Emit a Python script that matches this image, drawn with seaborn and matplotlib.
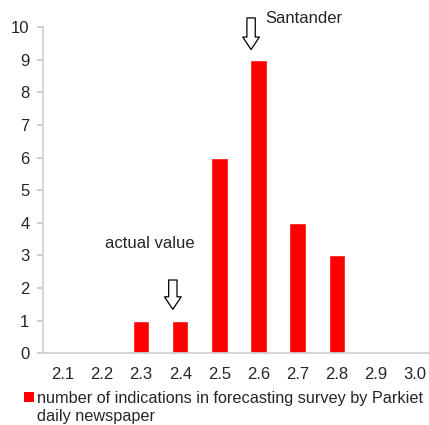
import pandas as pd
import numpy as np
import matplotlib.pyplot as plt
import seaborn as sns
from matplotlib.patches import Patch

# forecast values and number of indications
rates = ["2.1", "2.2", "2.3", "2.4", "2.5", "2.6", "2.7", "2.8", "2.9", "3.0"]
counts = [0, 0, 1, 1, 6, 9, 4, 3, 0, 0]
legend_line1 = "number of indications in forecasting survey by Parkiet"
legend_line2 = "daily newspaper"

df = pd.DataFrame({"rate": rates, "count": counts})

sns.set_theme(style="white")
plt.rcParams["font.family"] = ["Liberation Sans", "DejaVu Sans"]

fig = plt.figure(figsize=(4.29, 4.25), dpi=100)
ax = fig.add_axes([0.101, 0.169, 0.912, 0.767])

sns.barplot(data=df, x="rate", y="count", color="#ff0000", width=0.42,
            saturation=1, ax=ax)

ax.set_ylim(0, 10)
ax.set_xlim(-0.5, 9.5)
ax.set_yticks(range(0, 11))
ax.set_xlabel("")
ax.set_ylabel("")
ax.tick_params(axis="y", labelsize=12, length=4, color="#c8c8c8", left=True, pad=6)
ax.tick_params(axis="x", labelsize=12, length=0, pad=10)
for s in ["top", "right"]:
    ax.spines[s].set_visible(False)
ax.spines["left"].set_color("#d0d0d0")
ax.spines["bottom"].set_color("#d0d0d0")

# hollow arrows pointing at the bars
arrow = dict(arrowstyle="simple,head_length=0.75,head_width=1.0,tail_width=0.5",
             facecolor="white", edgecolor="black", linewidth=0.9, mutation_scale=12)
ax.annotate("", xy=(4.81, 9.23), xytext=(4.81, 10.37), arrowprops=arrow,
            annotation_clip=False)
ax.annotate("", xy=(2.81, 1.26), xytext=(2.81, 2.33), arrowprops=arrow)
ax.text(5.17, 10.28, "Santander", fontsize=12, va="center", ha="left")
ax.text(1.07, 3.37, "actual value", fontsize=12, va="center", ha="left")

# legend: square sits next to the first line, second line wraps under it
handle = Patch(facecolor="#ff0000", edgecolor="none")
fig.legend([handle], [legend_line1], loc="lower left", bbox_to_anchor=(0.04, 0.03),
           frameon=False, fontsize=11.7, handlelength=0.65, handleheight=0.65,
           handletextpad=0.15, borderaxespad=0)
fig.text(37 / 429, 1 - 416 / 425, legend_line2, fontsize=11.7, va="center", ha="left")

fig.savefig("out.png", dpi=100)
